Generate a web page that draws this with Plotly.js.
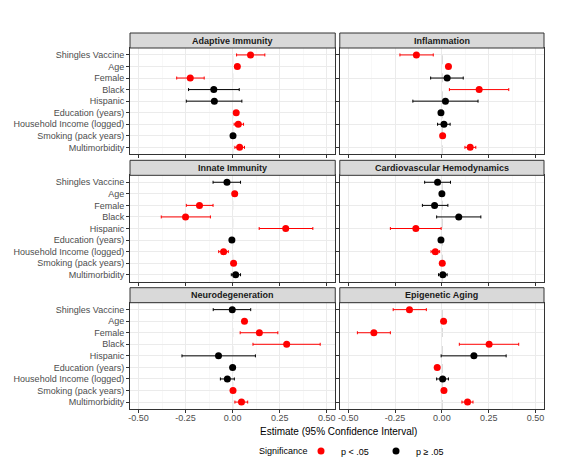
<!DOCTYPE html>
<html>
<head>
<meta charset="utf-8">
<script src="https://cdn.plot.ly/plotly-3.0.1.min.js"></script>
<style>
  html, body { margin: 0; padding: 0; background: #fff; }
  #chart { width: 575px; height: 466px; }
</style>
</head>
<body>
<div id="chart"></div>
<script>
// predictors, top to bottom
const predictors = ["Shingles Vaccine", "Age", "Female", "Black", "Hispanic",
    "Education (years)", "Household Income (logged)", "Smoking (pack years)", "Multimorbidity"];

const panels = ["Adaptive Immunity", "Inflammation", "Innate Immunity",
    "Cardiovascular Hemodynamics", "Neurodegeneration", "Epigenetic Aging"];

// one row per panel, same order as predictors
const estimate = [
    [0.095, 0.025, -0.225, -0.100, -0.097, 0.019, 0.030, 0.002, 0.037],
    [-0.136, 0.035, 0.028, 0.199, 0.019, -0.005, 0.011, 0.004, 0.151],
    [-0.030, 0.011, -0.176, -0.250, 0.282, -0.004, -0.048, 0.005, 0.016],
    [-0.023, 0.000, -0.039, 0.090, -0.139, -0.005, -0.035, 0.002, 0.005],
    [-0.002, 0.063, 0.142, 0.287, -0.075, 0.000, -0.028, 0.002, 0.047],
    [-0.173, 0.009, -0.363, 0.252, 0.171, -0.025, 0.004, 0.011, 0.137]
];
const ciLow = [
    [0.021, 0.018, -0.297, -0.234, -0.246, 0.012, 0.008, -0.003, 0.012],
    [-0.224, 0.028, -0.060, 0.040, -0.155, -0.012, -0.023, 0.001, 0.123],
    [-0.104, 0.005, -0.246, -0.379, 0.141, -0.010, -0.074, 0.002, -0.007],
    [-0.092, -0.006, -0.104, -0.028, -0.275, -0.011, -0.058, 0.001, -0.018],
    [-0.103, 0.056, 0.040, 0.108, -0.269, -0.012, -0.065, 0.001, 0.012],
    [-0.260, 0.004, -0.451, 0.093, -0.004, -0.037, -0.028, 0.007, 0.107]
];
const ciHigh = [
    [0.171, 0.032, -0.151, 0.035, 0.049, 0.026, 0.058, 0.007, 0.063],
    [-0.046, 0.042, 0.114, 0.357, 0.193, 0.003, 0.044, 0.007, 0.181],
    [0.042, 0.017, -0.104, -0.118, 0.426, 0.003, -0.023, 0.008, 0.042],
    [0.046, 0.006, 0.032, 0.208, -0.004, 0.002, -0.012, 0.004, 0.028],
    [0.096, 0.070, 0.240, 0.465, 0.121, 0.013, 0.009, 0.004, 0.080],
    [-0.083, 0.014, -0.275, 0.410, 0.343, -0.012, 0.035, 0.015, 0.166]
];
// 1 = p < .05
const significant = [
    [1, 1, 1, 0, 0, 1, 1, 0, 1],
    [1, 1, 0, 1, 0, 0, 0, 1, 1],
    [0, 1, 1, 1, 1, 0, 1, 1, 0],
    [0, 0, 0, 0, 1, 0, 1, 1, 0],
    [0, 1, 1, 1, 0, 0, 0, 1, 1],
    [1, 1, 1, 1, 0, 1, 0, 1, 1]
];

const xTickVals = [-0.5, -0.25, 0, 0.25, 0.5];
const xTickText = ["-0.50", "-0.25", "0.00", "0.25", "0.50"];

const groups = [
    { flag: 1, name: "p < .05", color: "#FF0000" },
    { flag: 0, name: "p \u2265 .05", color: "#000000" }
];

// panel geometry (paper fractions)
const colDomains = [[0, 0.4958], [0.5067, 1]];
const rowDomains = [[0.6774, 0.9601], [0.3386, 0.6215], [0, 0.2827]];
const stripH = 0.0399;

const traces = [];
const layout = {
    width: 575,
    height: 466,
    paper_bgcolor: "white",
    plot_bgcolor: "white",
    font: { family: "Liberation Sans, Arial, sans-serif", size: 9, color: "#4D4D4D" },
    margin: { l: 130, r: 31, t: 33, b: 57 },
    showlegend: true,
    legend: {
        orientation: "h",
        xref: "container", yref: "container",
        x: 301 / 575, xanchor: "left",
        y: 0.032, yanchor: "middle",
        font: { size: 9, color: "#000" },
        itemwidth: 30,
        entrywidth: 30,
        borderwidth: 0
    },
    shapes: [],
    annotations: [{
        text: "Estimate (95% Confidence Interval)",
        xref: "paper", yref: "paper",
        x: 0.503, y: -0.06, xanchor: "center", yanchor: "middle",
        showarrow: false,
        font: { size: 10, color: "#000" }
    }, {
        text: "Significance",
        xref: "paper", yref: "paper",
        x: (310 - 130) / 413.5, y: -0.112, xanchor: "right", yanchor: "middle",
        showarrow: false,
        font: { size: 9, color: "#000" }
    }]
};

panels.forEach((title, i) => {
    const r = Math.floor(i / 2), c = i % 2;
    const id = i === 0 ? "" : String(i + 1);
    const xa = "x" + id, ya = "y" + id;

    groups.forEach(g => {
        const idx = predictors.map((_, k) => k).filter(k => significant[i][k] === g.flag);
        traces.push({
            type: "scatter",
            mode: "markers",
            x: idx.map(k => estimate[i][k]),
            y: idx.map(k => predictors[k]),
            xaxis: xa, yaxis: ya,
            name: g.name,
            legendgroup: g.name,
            showlegend: i === 0,
            marker: { color: g.color, size: 7 },
            error_x: {
                type: "data",
                symmetric: false,
                array: idx.map(k => ciHigh[i][k] - estimate[i][k]),
                arrayminus: idx.map(k => estimate[i][k] - ciLow[i][k]),
                color: g.color,
                thickness: 1,
                width: 1.5
            },
            hoverinfo: "x+y"
        });
    });

    layout["xaxis" + id] = {
        domain: colDomains[c],
        anchor: ya,
        range: [-0.545, 0.545],
        tickvals: xTickVals,
        ticktext: xTickText,
        showticklabels: r === 2,
        ticks: "outside", ticklen: 3, tickcolor: "#333333",
        ticklabelstandoff: -3,
        showgrid: true, gridcolor: "#EBEBEB", gridwidth: 1,
        minor: { dtick: 0.25, tick0: 0.125, showgrid: true, gridcolor: "#F2F2F2", gridwidth: 0.5 },
        zeroline: false,
        showline: true, mirror: true, linecolor: "#333333", linewidth: 1,
        automargin: false,
        tickfont: { size: 9, color: "#4D4D4D" }
    };
    layout["yaxis" + id] = {
        domain: rowDomains[r],
        anchor: xa,
        type: "category",
        categoryorder: "array",
        categoryarray: predictors,
        range: [8.6, -0.6],
        showticklabels: c === 0,
        ticks: "outside", ticklen: 3, tickcolor: "#333333",
        showgrid: true, gridcolor: "#EBEBEB", gridwidth: 1,
        zeroline: false,
        showline: true, mirror: true, linecolor: "#333333", linewidth: 1,
        automargin: false,
        tickfont: { size: 9, color: "#4D4D4D" }
    };

    // dashed reference at zero
    layout.shapes.push({
        type: "line", layer: "below",
        xref: xa, yref: ya + " domain",
        x0: 0, x1: 0, y0: 0, y1: 1,
        line: { color: "#A0A0A0", width: 1, dash: "dash" }
    });
    // facet strip
    layout.shapes.push({
        type: "rect",
        xref: "paper", yref: "paper",
        x0: colDomains[c][0], x1: colDomains[c][1],
        y0: rowDomains[r][1], y1: rowDomains[r][1] + stripH,
        fillcolor: "#D9D9D9",
        line: { color: "#333333", width: 1 }
    });
    layout.annotations.push({
        text: "<b>" + title + "</b>",
        xref: "paper", yref: "paper",
        x: (colDomains[c][0] + colDomains[c][1]) / 2,
        y: rowDomains[r][1] + stripH / 2,
        xanchor: "center", yanchor: "middle",
        showarrow: false,
        font: { size: 9, color: "#1A1A1A" }
    });
});

Plotly.newPlot("chart", traces, layout, { displayModeBar: false, staticPlot: true });
</script>
</body>
</html>
